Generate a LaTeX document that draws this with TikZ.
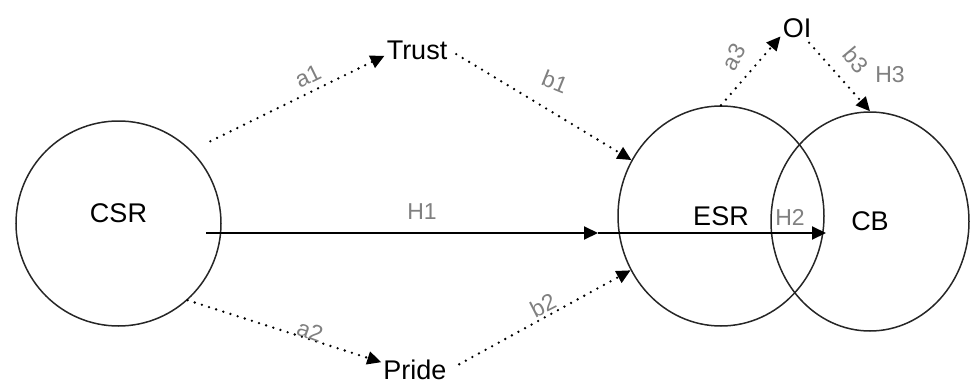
\documentclass[tikz,border=0pt]{standalone}
\usepackage{fontspec}
\setmainfont{Liberation Sans}
\usetikzlibrary{arrows.meta,shapes.geometric}
\definecolor{coefgray}{HTML}{808080}

\begin{document}
\begin{tikzpicture}[
  x=1pt,
  y=-1pt,
  construct/.style={
    ellipse,
    draw=black!85,
    line width=1.5pt,
    inner sep=0pt,
    font=\fontsize{27}{30}\selectfont
  },
  mediator/.style={inner sep=2pt, font=\fontsize{27}{30}\selectfont},
  direct/.style={
    draw=black,
    line width=2pt,
    -{Triangle[length=14pt, width=13pt]}
  },
  indirect/.style={
    draw=black,
    line width=2.6pt,
    line cap=round,
    dash pattern=on 0pt off 7.5pt,
    -{Triangle[length=14pt, width=13pt]}
  },
  coef/.style={font=\fontsize{23}{26}\selectfont, text=coefgray, inner sep=0pt}
]
\useasboundingbox (0,0) rectangle (970,383);

% ---------------------------------------------------------------------------
% Constructs
% ---------------------------------------------------------------------------
\node[construct, minimum width=205pt, minimum height=205pt,
  label={[font=\fontsize{27}{30}\selectfont, yshift=10pt]center:CSR}] (csr) at (118.5,223.5) {};
\node[construct, minimum width=206pt, minimum height=220pt] (esr) at (721,216) {ESR};
\node[construct, minimum width=198pt, minimum height=219pt] (cb) at (870,221.5) {CB};

\node[mediator] (trust) at (417,50) {Trust};
\node[mediator] (pride) at (415,370) {Pride};
\node[mediator] (oi) at (797,28) {OI};

% ---------------------------------------------------------------------------
% Indirect paths
% ---------------------------------------------------------------------------
\draw[indirect, shorten <=21pt] (csr.45) -- (trust.190);
\draw[indirect, shorten <=8pt] (trust.east) -- (esr.148);
\draw[indirect] (csr.-48) -- (pride.167);
\draw[indirect, shorten <=12pt] (pride.east) -- (esr.211);
\draw[indirect] (esr.north) -- (oi.207);
\draw[indirect, shorten <=4pt] (oi.-51) -- (cb.north);

% ---------------------------------------------------------------------------
% Direct paths
% ---------------------------------------------------------------------------
\coordinate (h1s) at (206,233);
\coordinate (h1e) at (598,233);
\coordinate (h2e) at (826,233);
\draw[direct] (h1s) -- (h1e);
\draw[direct] (h1e) -- (h2e);

% Coefficient labels.
\node[coef, rotate=26] (a1) at (308,76) {a1};
\node[coef, rotate=-22] (b1) at (555,82) {b1};
\node[coef, rotate=-20] (a2) at (310,331) {a2};
\node[coef, rotate=27] (b2) at (543,305) {b2};
\node[coef, rotate=60] (a3) at (734,57) {a3};
\node[coef, rotate=-50] (b3) at (856,60) {b3};
\node[coef] (h1) at (422,212) {H1};
\node[coef] (h2) at (790,217) {H2};
\node[coef] (h3) at (890,75) {H3};
\end{tikzpicture}
\end{document}
